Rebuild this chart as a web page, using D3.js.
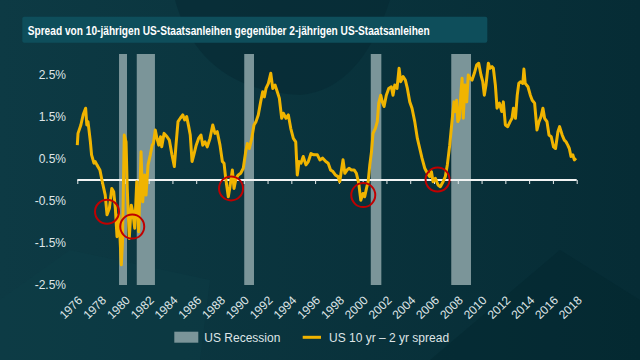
<!DOCTYPE html>
<html><head><meta charset="utf-8">
<script src="https://cdn.jsdelivr.net/npm/d3@7"></script>
<style>html,body{margin:0;padding:0;background:#0a303a;}svg{display:block;}</style>
</head><body>
<svg id="chart" width="640" height="360"></svg>
<script>
const titleText = "Spread von 10-jährigen US-Staatsanleihen gegenüber 2-jährigen US-Staatsanleihen";
const yTickValues = [-2.5, -1.5, -0.5, 0.5, 1.5, 2.5];
const yTickLabels = ["-2.5%", "-1.5%", "-0.5%", "0.5%", "1.5%", "2.5%"];
const xTickValues = [1976,1978,1980,1982,1984,1986,1988,1990,1992,1994,1996,1998,2000,2002,2004,2006,2008,2010,2012,2014,2016,2018];
const xTickLabels = xTickValues.map(String);
const recessionStart = [1979.51, 1981.0, 1990.04, 2000.68, 2007.45];
const recessionEnd   = [1980.18, 1982.53, 1990.86, 2001.57, 2009.11];
const spreadYear = [1976.0,1976.06,1976.3,1976.5,1976.7,1976.8,1976.9,1977.1,1977.2,1977.4,1977.5,1977.65,1977.9,1978.1,1978.35,1978.5,1978.7,1978.9,1979.06,1979.2,1979.34,1979.5,1979.7,1979.8,1979.95,1980.1,1980.2,1980.37,1980.54,1980.66,1980.83,1981.0,1981.16,1981.36,1981.5,1981.67,1981.78,1981.95,1982.14,1982.3,1982.4,1982.56,1982.7,1982.85,1983.0,1983.1,1983.3,1983.55,1983.74,1983.96,1984.16,1984.3,1984.47,1984.66,1984.87,1985.03,1985.2,1985.37,1985.5,1985.65,1985.8,1986.0,1986.2,1986.4,1986.55,1986.74,1986.93,1987.16,1987.39,1987.58,1987.77,1988.0,1988.2,1988.34,1988.48,1988.7,1988.84,1989.04,1989.18,1989.35,1989.54,1989.74,1989.96,1990.16,1990.3,1990.47,1990.67,1990.86,1991.03,1991.22,1991.42,1991.59,1991.73,1991.87,1992.07,1992.27,1992.44,1992.63,1992.82,1992.99,1993.19,1993.33,1993.55,1993.75,1993.95,1994.17,1994.37,1994.5,1994.65,1994.81,1995.0,1995.23,1995.43,1995.65,1995.9,1996.19,1996.4,1996.64,1996.9,1997.1,1997.3,1997.5,1997.7,1997.93,1998.07,1998.2,1998.35,1998.5,1998.7,1998.85,1999.05,1999.28,1999.47,1999.67,1999.84,2000.03,2000.17,2000.32,2000.46,2000.6,2000.74,2000.87,2001.07,2001.23,2001.35,2001.52,2001.65,2001.8,2001.99,2002.19,2002.41,2002.55,2002.7,2002.89,2003.06,2003.2,2003.4,2003.59,2003.76,2003.96,2004.15,2004.38,2004.6,2004.8,2004.99,2005.22,2005.44,2005.64,2005.78,2005.92,2006.11,2006.34,2006.53,2006.76,2006.95,2007.12,2007.32,2007.51,2007.68,2007.8,2007.9,2008.0,2008.13,2008.27,2008.36,2008.46,2008.6,2008.75,2008.88,2009.03,2009.2,2009.39,2009.59,2009.76,2009.95,2010.1,2010.23,2010.37,2010.57,2010.71,2010.88,2010.99,2011.16,2011.3,2011.5,2011.7,2011.83,2012.0,2012.2,2012.4,2012.56,2012.68,2012.85,2013.0,2013.13,2013.27,2013.47,2013.56,2013.67,2013.9,2014.1,2014.26,2014.46,2014.66,2014.83,2015.0,2015.16,2015.3,2015.5,2015.67,2015.86,2016.05,2016.22,2016.42,2016.56,2016.78,2016.96,2017.1,2017.25,2017.38,2017.52,2017.67,2017.8,2017.94];
const spreadValue = [0.83,1.11,1.31,1.56,1.71,1.31,1.39,0.91,0.6,0.4,0.44,0.36,0.24,-0.04,-0.36,-0.83,-0.67,-0.2,-0.28,-0.67,-1.35,-0.83,-2.02,-1.47,1.07,0.91,-0.2,-1.39,-0.6,-0.75,-1.15,-0.04,-1.23,0.67,-0.52,0.12,-0.36,0.36,0.6,0.83,0.87,1.19,0.99,0.83,1.03,0.79,1.11,1.03,0.95,0.6,0.32,0.83,1.39,1.47,1.55,1.43,1.51,1.27,1.07,0.44,0.6,0.83,0.99,1.07,0.83,0.91,0.79,0.99,1.31,1.11,1.15,0.83,0.44,0.4,0.04,-0.4,-0.16,0.24,-0.2,0.04,0.12,0.16,0.28,0.67,0.87,0.75,0.99,1.31,1.39,1.55,1.86,2.10,1.98,2.18,2.3,2.54,2.18,2.26,2.1,1.95,1.47,1.59,1.47,1.55,1.23,0.99,0.91,0.12,0.44,0.4,0.56,0.36,0.44,0.63,0.6,0.6,0.48,0.52,0.44,0.4,0.24,0.2,0.12,0.08,-0.04,0.2,0.48,0.16,0.24,0.28,0.24,0.24,0.16,-0.08,-0.48,-0.32,-0.4,-0.2,-0.04,0.36,0.67,1.11,1.23,1.39,1.83,2.02,1.86,1.75,2.02,2.18,2.22,2.02,2.26,2.18,2.66,2.34,2.46,2.38,2.18,1.86,1.71,1.39,0.99,0.75,0.52,0.28,0.16,0.08,0.2,-0.04,0.04,-0.12,-0.16,-0.04,0.08,0.36,0.83,1.39,1.86,1.63,1.9,1.39,1.47,2.10,2.42,1.47,2.26,1.86,2.5,2.42,2.38,2.54,2.74,2.78,2.5,2.34,2.02,2.26,2.78,2.66,2.7,2.66,2.26,1.71,1.83,1.63,1.86,1.31,1.27,1.39,1.47,1.71,1.47,2.02,2.3,2.34,2.3,2.64,2.3,2.22,2.02,1.9,1.83,1.19,1.39,1.51,1.71,1.47,1.39,1.07,1.03,0.79,0.75,1.15,1.27,1.07,0.95,0.91,0.83,0.75,0.56,0.6,0.48,0.52];
const circleYear  = [1978.5, 1980.62, 1988.93, 2000.05, 2006.3];
const circleValue = [-0.755, -1.11, -0.2, -0.36, 0.01];
const legendLabels = ["US Recession", "US 10 yr \u2013 2 yr spread"];

const svg = d3.select("#chart");
const W = 640, H = 360;
const gold = "#f0b400", recFill = "#7b9599", textCol = "#dfe5e7";

// background
const defs = svg.append("defs");
const bg = defs.append("linearGradient").attr("id","bg").attr("x1","0").attr("y1","0").attr("x2","1").attr("y2","0");
bg.append("stop").attr("offset","0").attr("stop-color","#0d3a44");
bg.append("stop").attr("offset","1").attr("stop-color","#062c35");
svg.append("rect").attr("width",W).attr("height",H).attr("fill","url(#bg)");
// faint decorative shapes
svg.append("path").attr("d","M175,0 Q200,90 300,95 Q360,90 390,0 Z").attr("fill","#062a33").attr("opacity",0.6);
svg.append("path").attr("d","M0,300 L70,250 L210,280 L200,360 L0,360 Z").attr("fill","#0f3f49").attr("opacity",0.35);
svg.append("path").attr("d","M430,360 L560,250 L640,300 L640,360 Z").attr("fill","#03252d").attr("opacity",0.4);

// title
svg.append("rect").attr("x",22.3).attr("y",16.7).attr("width",465).attr("height",26).attr("rx",2).attr("fill","#0e4e5b");
svg.append("text").attr("x",27.7).attr("y",34.5).text(titleText)
  .attr("font-family","'Liberation Sans Narrow', 'Liberation Sans', Arial, sans-serif")
  .attr("font-weight","bold").attr("font-size",13.5).attr("fill","#ffffff")
  .attr("textLength",402).attr("lengthAdjust","spacingAndGlyphs");

const x = d3.scaleLinear().domain([1976, 2018]).range([77.3, 576.7]);
const y = d3.scaleLinear().domain([-2.5, 3.0]).range([285, 54]);

// recession bars
svg.append("g").selectAll("rect").data(recessionStart).join("rect")
  .attr("x", d => x(d)).attr("width", (d,i) => x(recessionEnd[i]) - x(d))
  .attr("y", y(3.0)).attr("height", y(-2.5) - y(3.0)).attr("fill", recFill);

// y axis labels
const yAxis = d3.axisLeft(y).tickValues(yTickValues).tickSize(0).tickPadding(0)
  .tickFormat((d,i) => yTickLabels[i]);
const gy = svg.append("g").attr("transform","translate(66,0)").call(yAxis);
gy.select(".domain").remove();
gy.selectAll("text").attr("font-family","'Liberation Sans', Arial, sans-serif").attr("font-size",12).attr("fill",textCol);

// zero line with ticks
const xAxis = d3.axisBottom(x).tickValues(xTickValues).tickSize(4).tickFormat("");
const gx = svg.append("g").attr("transform",`translate(0,${y(0)})`).call(xAxis);
gx.select(".domain").attr("stroke","#f2f4f4").attr("stroke-width",2).attr("d",`M${x(1976)},0H${x(2018)}`);
gx.selectAll(".tick line").attr("stroke","#e6ebec").attr("stroke-width",1);

// x labels at bottom, rotated
svg.append("g").selectAll("text").data(xTickValues).join("text")
  .attr("transform", d => `translate(${x(d)+3},298) rotate(-45)`)
  .attr("text-anchor","end").attr("dy","0.35em")
  .attr("font-family","'Liberation Sans', Arial, sans-serif").attr("font-size",12).attr("fill",textCol)
  .text((d,i) => xTickLabels[i]);

// spread line
const line = d3.line().x(d => x(spreadYear[d])).y(d => y(spreadValue[d]));
svg.append("path").datum(d3.range(spreadYear.length)).attr("d", line)
  .attr("fill","none").attr("stroke",gold).attr("stroke-width",3).attr("stroke-linejoin","round");

// red circles
svg.append("g").selectAll("circle").data(circleYear).join("circle")
  .attr("cx", d => x(d)).attr("cy", (d,i) => y(circleValue[i])).attr("r",12)
  .attr("fill","none").attr("stroke","#c00000").attr("stroke-width",2);

// legend
const lg = svg.append("g").attr("font-family","'Liberation Sans', Arial, sans-serif").attr("font-size",12).attr("fill",textCol);
lg.append("rect").attr("x",174.3).attr("y",331.7).attr("width",24).attr("height",11).attr("fill",recFill);
lg.append("text").attr("x",204.3).attr("y",341.6).text(legendLabels[0]);
lg.append("line").attr("x1",302.7).attr("x2",321).attr("y1",337.3).attr("y2",337.3).attr("stroke",gold).attr("stroke-width",3);
lg.append("text").attr("x",329).attr("y",341.6).text(legendLabels[1]);
</script>
</body></html>
